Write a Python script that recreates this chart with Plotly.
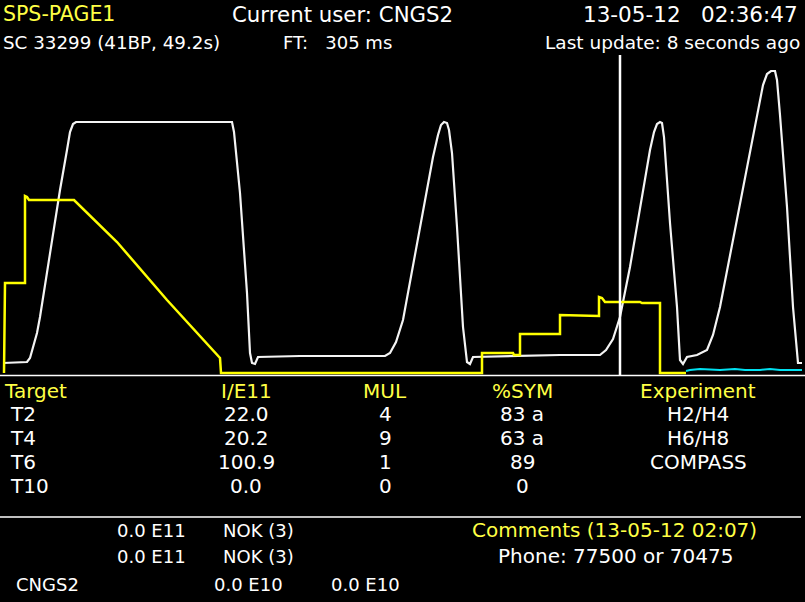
import plotly.graph_objects as go

W, H = 805, 602

# ---------------- data (time in screen-units, signal above baseline) -------------
white_t = [3, 27, 30, 33, 37, 40, 47, 53, 60, 67, 70, 73, 76, 120, 180, 232, 234, 240, 247, 250, 252, 255, 258,
           300, 350, 385, 390, 396, 403, 413, 423, 433, 438, 441, 444, 447, 449, 452, 457, 463, 467, 470, 473,
           520, 560, 600, 606, 613, 620, 630, 640, 650, 654, 657, 660, 662, 664, 670, 677, 680, 683, 687,
           697, 707, 713, 720, 733, 747, 757, 763, 767, 771, 775, 777, 780, 787, 793, 798, 802]
white_v = [12, 13, 17, 27, 42, 58, 102, 142, 185, 225, 243, 251, 253, 253, 253, 253, 243, 182, 82, 22, 12, 11, 18,
           19, 19, 19, 22, 33, 55, 108, 165, 218, 240, 250, 253, 252, 245, 222, 148, 48, 13, 11, 18,
           19, 20, 20, 25, 36, 58, 108, 168, 225, 243, 251, 253, 252, 238, 152, 68, 15, 11, 18,
           20, 25, 40, 68, 135, 208, 258, 290, 301, 304, 304, 295, 260, 168, 68, 12, 12]

yellow_t = [4, 5, 25, 25, 27, 29, 74, 97, 117, 167, 220, 221, 482, 482, 513, 514, 520, 520,
            560, 560, 599, 599, 602, 605, 640, 642, 660, 660, 686]
yellow_v = [2, 92, 92, 179, 178, 175, 175, 153, 133, 75, 17, 2, 2, 22, 22, 20, 20, 41,
            41, 60, 59, 78, 77, 73, 73, 72, 72, 2, 2]

cyan_t = [686, 690, 700, 712, 720, 735, 745, 760, 770, 780, 790, 802]
cyan_v = [4, 5, 6, 5, 5, 6, 5, 5, 6, 5, 5, 5]

cursor_t = 620

targets = ["T2", "T4", "T6", "T10"]
intensity = ["22.0", "20.2", "100.9", "0.0"]
mul = ["4", "9", "1", "0"]
sym = ["83 a", "63 a", "89", "0"]
experiment = ["H2/H4", "H6/H8", "COMPASS", ""]
headers = ["Target", "I/E11", "MUL", "%SYM", "Experiment"]

# ---------------- figure --------------------------------------------------------------
YEL = "#ffff00"
TXT_Y = "#ffff44"
WHT = "#ffffff"
FONT = "DejaVu Sans"

fig = go.Figure()
fig.add_trace(go.Scatter(x=white_t, y=white_v, mode="lines",
                         line=dict(color="#f4f4f4", width=2.2), hoverinfo="skip"))
fig.add_trace(go.Scatter(x=yellow_t, y=yellow_v, mode="lines",
                         line=dict(color=YEL, width=2.5), hoverinfo="skip"))
fig.add_trace(go.Scatter(x=cyan_t, y=cyan_v, mode="lines",
                         line=dict(color="#00e0f0", width=2), hoverinfo="skip"))

# plot area: pixel rows 55..375
dom_lo = 1 - 375 / H
dom_hi = 1 - 55 / H

fig.update_layout(
    width=W, height=H,
    margin=dict(l=0, r=0, t=0, b=0),
    paper_bgcolor="black", plot_bgcolor="black",
    showlegend=False,
    xaxis=dict(range=[0, W], domain=[0, 1], visible=False, fixedrange=True),
    yaxis=dict(range=[0, 320], domain=[dom_lo, dom_hi], visible=False, fixedrange=True),
)

# cursor line
fig.add_shape(type="line", xref="x", yref="y", x0=cursor_t, x1=cursor_t, y0=0, y1=322,
              line=dict(color=WHT, width=2.5))
# separators
for py, x1 in [(375.5, 1.0), (517, 0.995)]:
    fig.add_shape(type="line", xref="paper", yref="paper", x0=0, x1=x1,
                  y0=1 - py / H, y1=1 - py / H, line=dict(color=WHT, width=1.5))


def txt(s, x, py, anchor="left", color=WHT, size=20):
    fig.add_annotation(text=s, xref="paper", yref="paper", x=x / W, y=1 - py / H,
                       xanchor=anchor, yanchor="middle", showarrow=False,
                       font=dict(family=FONT, size=size, color=color))


# header
txt("SPS-PAGE1", 1, 14, "left", TXT_Y, 20.5)
txt("Current user: CNGS2", 230, 14, "left", WHT, 21.3)
txt("13-05-12   02:36:47", 800, 14, "right", WHT, 21.5)
txt("SC 33299 (41BP, 49.2s)", 1, 42, "left", WHT, 18.3)
txt("FT:   305 ms", 281, 42, "left", WHT, 18)
txt("Last update: 8 seconds ago", 802, 42, "right", WHT, 18.5)

# table
col_x = [2, 246, 385, 522, 698]
txt(headers[0], col_x[0], 391, "left", TXT_Y)
for h, cx in zip(headers[1:], col_x[1:]):
    txt(h, cx, 391, "center", TXT_Y)
for i in range(len(targets)):
    py = 414 + 24 * i
    txt(targets[i], 8, py, "left")
    txt(intensity[i], col_x[1], py, "center")
    txt(mul[i], col_x[2], py, "center")
    txt(sym[i], col_x[3], py, "center")
    if experiment[i]:
        txt(experiment[i], col_x[4], py, "center")

# bottom
txt("0.0 E11", 115, 530, "left", WHT, 18)
txt("NOK (3)", 221, 530, "left", WHT, 18)
txt("0.0 E11", 115, 556, "left", WHT, 18)
txt("NOK (3)", 221, 556, "left", WHT, 18)
txt("CNGS2", 14, 584, "left", WHT, 18)
txt("0.0 E10", 212, 584, "left", WHT, 18)
txt("0.0 E10", 329, 584, "left", WHT, 18)
txt("Comments (13-05-12 02:07)", 614, 530, "center", TXT_Y, 20)
txt("Phone: 77500 or 70475", 615, 556, "center", WHT, 20)

fig.write_html("out.html", config={"displayModeBar": False})
